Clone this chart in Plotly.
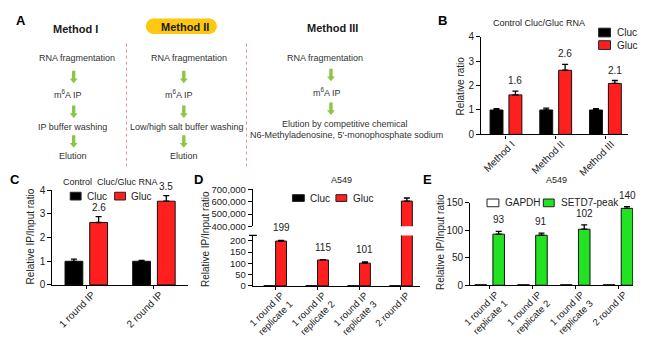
import plotly.graph_objects as go

W, H = 650, 344


def X(px):
    return px / W


def Y(py):
    return 1 - py / H


FONT = "Liberation Sans, Arial, Helvetica, sans-serif"
INK = "#222222"
TXT = "#333333"
RED = "#ff1f1f"
GREEN = "#22e322"
ARROW = "#8dc641"
YELLOW = "#fdc80f"

# ---------------- data ----------------
methods = ["Method I", "Method II", "Method III"]
b_cluc = [1.0, 1.0, 1.0]
b_cluc_err = [0.05, 0.08, 0.06]
b_gluc = [1.62, 2.63, 2.09]
b_gluc_err = [0.15, 0.24, 0.12]

c_rounds = ["1 round IP", "2 round IP"]
c_cluc = [1.0, 1.0]
c_cluc_err = [0.09, 0.04]
c_gluc = [2.64, 3.54]
c_gluc_err = [0.25, 0.24]

a549_cats = ["1 round IP<br>replicate 1", "1 round IP<br>replicate 2",
             "1 round IP<br>replicate 3", "2 round IP"]
d_cluc = [1, 1, 1, 1]
d_gluc = [199, 115, 101, 605000]
d_gluc_err = [3, 1, 5, 25000]
d_labels = ["199", "115", "101", ""]

e_gapdh = [1, 1, 1, 1]
e_setd7 = [93, 91, 102, 140]
e_setd7_err = [5, 4, 8, 3]

# ---------------- figure ----------------
fig = go.Figure()


def bar(x, y, err, color, xa, ya, offset, width, line="#111111"):
    kw = {}
    if err is not None:
        kw["error_y"] = dict(type="data", array=err, arrayminus=[0] * len(err),
                             symmetric=False, color="black", thickness=1.3, width=3)
    return go.Bar(x=x, y=y, xaxis=xa, yaxis=ya, width=width, offset=offset,
                  marker=dict(color=color, line=dict(color=line, width=1)),
                  showlegend=False, hoverinfo="skip", **kw)


# B
fig.add_trace(bar(methods, b_cluc, b_cluc_err, "black", "x", "y", -0.32, 0.26))
fig.add_trace(bar(methods, b_gluc, b_gluc_err, RED, "x", "y", 0.06, 0.26))
# C
fig.add_trace(bar(c_rounds, c_cluc, c_cluc_err, "black", "x2", "y2", -0.314, 0.263))
fig.add_trace(bar(c_rounds, c_gluc, c_gluc_err, RED, "x2", "y2", 0.051, 0.263))
# D (broken axis: lower y3, upper y4)
fig.add_trace(bar(a549_cats, d_cluc, None, "black", "x3", "y3", -0.27, 0.26))
fig.add_trace(bar(a549_cats, d_gluc, d_gluc_err, RED, "x3", "y3", 0.01, 0.26))
fig.add_trace(bar(a549_cats, d_gluc, d_gluc_err, RED, "x3", "y4", 0.01, 0.26))
# E
fig.add_trace(bar(a549_cats, e_gapdh, None, "white", "x4", "y5", -0.35, 0.27))
fig.add_trace(bar(a549_cats, e_setd7, e_setd7_err, GREEN, "x4", "y5", 0.07, 0.27))

axis_common = dict(showline=True, linecolor="black", linewidth=1.3, ticks="outside",
                   ticklen=4, tickwidth=1.3, tickcolor="black", showgrid=False,
                   zeroline=False, fixedrange=True,
                   tickfont=dict(size=10, color=INK, family=FONT))
xcat = dict(axis_common, type="category", tickangle=-45, ticklen=3,
            ticklabelshift=6, ticklabelstandoff=-4)

fig.update_layout(
    width=W, height=H, margin=dict(l=0, r=0, t=0, b=0),
    paper_bgcolor="white", plot_bgcolor="white", barmode="overlay",
    font=dict(family=FONT, color=INK, size=10),
    xaxis=dict(xcat, domain=[X(479), X(628)], range=[-0.5, 2.46], anchor="y"),
    yaxis=dict(axis_common, domain=[Y(133), Y(32)], range=[0, 4], dtick=1, anchor="x"),
    xaxis2=dict(xcat, domain=[X(45), X(182)], range=[-0.5, 1.5], anchor="y2"),
    yaxis2=dict(axis_common, domain=[Y(289), Y(191)], range=[0, 4], dtick=1, anchor="x2"),
    xaxis3=dict(xcat, domain=[X(248), X(417)], range=[-0.53, 3.45], anchor="y3",
                tickfont=dict(size=9.5, color=INK, family=FONT)),
    yaxis3=dict(axis_common, domain=[Y(290), Y(237.7)], range=[0, 224], dtick=50,
                anchor="x3", tickfont=dict(size=9.5, color=INK, family=FONT)),
    yaxis4=dict(axis_common, domain=[Y(228.3), Y(190)], range=[400000, 700000],
                dtick=100000, tickformat=",", anchor="x3",
                tickfont=dict(size=9.5, color=INK, family=FONT)),
    xaxis4=dict(xcat, domain=[X(468), X(633)], range=[-0.46, 3.35], anchor="y5",
                tickfont=dict(size=9.5, color=INK, family=FONT)),
    yaxis5=dict(axis_common, domain=[Y(289.3), Y(204)], range=[0, 150], dtick=50,
                anchor="x4"),
)

ann = []
shapes = []


def text(px, py, s, size=9, color=TXT, bold=False, anchor="center", angle=0):
    ann.append(dict(x=X(px), y=Y(py), xref="paper", yref="paper", text=("<b>%s</b>" % s) if bold else s,
                    showarrow=False, xanchor=anchor, yanchor="middle", textangle=angle,
                    font=dict(size=size, color=color, family=FONT)))


# ---------------- panel A (diagram) ----------------
text(13, 15, "A", 13, "black", True)
shapes.append(dict(type="rect", xref="paper", yref="paper", x0=X(147), x1=X(204), y0=Y(29), y1=Y(13),
                   fillcolor=YELLOW, line=dict(width=0), layer="below"))
for cx in (147.5, 203.5):
    shapes.append(dict(type="circle", xref="paper", yref="paper", x0=X(cx - 8), x1=X(cx + 8),
                       y0=Y(29), y1=Y(13), fillcolor=YELLOW, line=dict(width=0), layer="below"))
text(68, 24, "Method I", 11, "#1a1a1a", True)
text(179, 21.5, "Method II", 11, "#1a1a1a", True)
text(329, 23, "Method III", 11, "#1a1a1a", True)

for xl in (120, 241.5):
    shapes.append(dict(type="line", xref="paper", yref="paper", x0=X(xl), x1=X(xl), y0=Y(39), y1=Y(166),
                       line=dict(color="#ef8f8f", width=1, dash="dot")))

steps_1 = [("RNA fragmentation", 70, 54), ("m<sup>6</sup>A IP", 61, 91),
           ("IP buffer washing", 65, 125), ("Elution", 66, 155)]
steps_2 = [("RNA fragmentation", 183, 54), ("m<sup>6</sup>A IP", 173, 91),
           ("Low/high salt buffer washing", 181, 125), ("Elution", 178, 155)]
steps_3 = [("RNA fragmentation", 321, 54), ("m<sup>6</sup>A IP", 323, 89),
           ("Elution by competitive chemical", 341, 122),
           ("N6-Methyladenosine, 5'-monophosphate sodium", 343, 134)]
for s, px, py in steps_1 + steps_2 + steps_3:
    text(px, py, s, 9)


def arrow(cx, yt, yb):
    sw, hw, hh = 1.7, 4.0, 5.0
    pts = [(cx - sw, yt), (cx + sw, yt), (cx + sw, yb - hh), (cx + hw, yb - hh), (cx, yb),
           (cx - hw, yb - hh), (cx - sw, yb - hh)]
    path = "M " + " L ".join("%.5f,%.5f" % (X(a), Y(b)) for a, b in pts) + " Z"
    shapes.append(dict(type="path", xref="paper", yref="paper", path=path,
                       fillcolor=ARROW, line=dict(width=0)))


for cx in (66.5, 178):
    for yt, yb in ((67, 80), (103, 116), (134, 147)):
        arrow(cx, yt, yb)
for yt, yb in ((65, 78), (100, 113)):
    arrow(327, yt, yb)

# ---------------- panel titles / labels ----------------
text(440, 15, "B", 13, "black", True)
text(538, 18, "Control Cluc/Gluc RNA", 9, INK)
text(458, 83, "Relative ratio", 10, INK, angle=-90)

text(7, 180, "C", 13, "black", True)
text(104, 182, "Control  Cluc/Gluc RNA", 9, INK)
text(23, 239, "Relative IP/Input ratio", 10, INK, angle=-90)

text(193, 180, "D", 13, "black", True)
text(338, 180, "A549", 9, INK)
text(200, 242, "Relative IP/Input ratio", 10, INK, angle=-90)

text(425, 180, "E", 13, "black", True)
text(555, 180, "A549", 9, INK)
text(438, 245, "Relative IP/Input ratio", 10, INK, angle=-90)


# legends (manual swatches)
def swatch(x0, x1, y0, y1, color):
    shapes.append(dict(type="rect", xref="paper", yref="paper", x0=X(x0), x1=X(x1), y0=Y(y1), y1=Y(y0),
                       fillcolor=color, line=dict(color="#222222", width=1)))


swatch(598, 610, 23, 32, "black"); text(615, 27.5, "Cluc", 10, INK, anchor="left")
swatch(598, 610, 36, 45, RED); text(615, 40.5, "Gluc", 10, INK, anchor="left")
swatch(63, 74, 193, 201, "black"); text(78, 197, "Cluc", 10, INK, anchor="left")
swatch(108, 119, 193, 201, RED); text(123, 197, "Gluc", 10, INK, anchor="left")
swatch(288, 300, 195.5, 202.5, "black"); text(304, 199, "Cluc", 10, INK, anchor="left")
swatch(332, 343, 195.5, 202.5, RED); text(347, 199, "Gluc", 10, INK, anchor="left")
swatch(485, 497, 200, 208, "white"); text(501, 204, "GAPDH", 10, INK, anchor="left")
swatch(542, 553, 200, 208, GREEN); text(558, 204, "SETD7-peak", 10, INK, anchor="left")


# value labels
def vlabel(xa, ya, idx, pos, val, s, shift):
    ann.append(dict(x=idx + pos, y=val, xref=xa, yref=ya, text=s, showarrow=False,
                    yanchor="bottom", yshift=shift, font=dict(size=10, color=INK, family=FONT)))


for i, (v, e) in enumerate(zip(b_gluc, b_gluc_err)):
    vlabel("x", "y", i, 0.06 + 0.13, v + e, "%.1f" % v, 3)
for i, (v, e) in enumerate(zip(c_gluc, c_gluc_err)):
    vlabel("x2", "y2", i, 0.051 + 0.13, v + e, "%.1f" % v, 2)
for i, (v, e, s) in enumerate(zip(d_gluc, d_gluc_err, d_labels)):
    if s:
        vlabel("x3", "y3", i, 0.01 + 0.13, v + e, s, 5)
for i, (v, e) in enumerate(zip(e_setd7, e_setd7_err)):
    vlabel("x4", "y5", i, 0.07 + 0.135, v + e, "%d" % v, 4)

# break cap at top of lower D axis
shapes.append(dict(type="line", xref="paper", yref="paper", x0=X(244), x1=X(252), y0=Y(237.7), y1=Y(237.7),
                   line=dict(color="black", width=1.3)))

fig.update_layout(annotations=ann, shapes=shapes)
fig.write_html("out.html")
